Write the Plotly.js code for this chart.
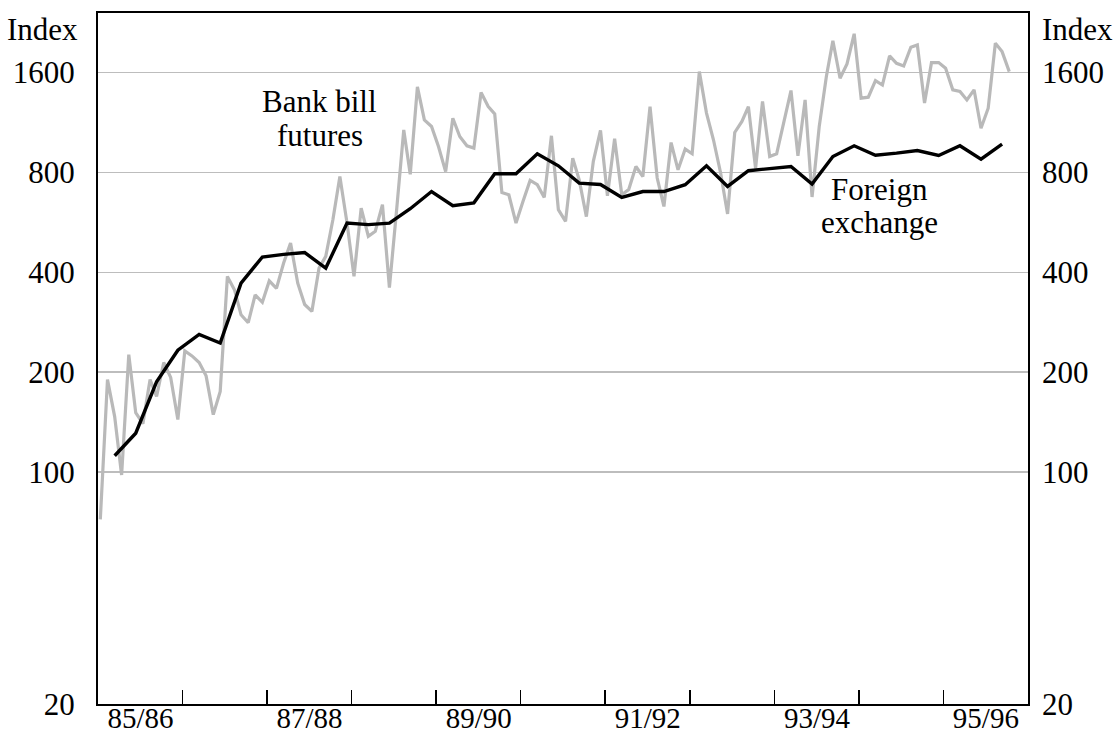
<!DOCTYPE html>
<html>
<head>
<meta charset="utf-8">
<script src="https://cdn.plot.ly/plotly-3.0.1.min.js"></script>
<style>html,body{margin:0;padding:0;background:#fff;}#chart{width:1119px;height:738px;}</style>
</head>
<body>
<div id="chart"></div>
<script>
// Monthly bank bill futures index, starting July 1985
const billStart = [1985, 7];
const billFutures = [72,190,147,98,226,151,140,190,169,214,193,144,
  232,224,214,195,149,175,389,354,298,282,342,325,
  377,358,427,490,371,320,305,412,447,577,778,563,
  389,625,514,532,640,360,615,1075,790,1450,1152,1101,
  958,805,1166,1027,963,948,1393,1264,1202,696,685,563,
  654,757,735,673,1032,618,570,884,760,589,864,1071,
  680,1011,685,711,834,778,1264,770,632,985,815,941,
  911,1611,1208,1004,797,600,1056,1140,1264,824,1309,894,
  911,1126,1413,898,1324,675,1100,1560,1996,1539,1700,2095,
  1340,1349,1513,1468,1797,1707,1675,1908,1939,1295,1715,1715,
  1650,1420,1403,1324,1420,1088,1250,1962,1851,1611];
// Quarterly foreign exchange index, starting September 1985
const fxStart = [1985, 9];
const foreignExchange = [112,131,187,233,260,245,371,445,453,459,412,563,
  557,563,622,701,635,648,793,793,911,838,743,736,
  673,701,701,735,838,726,810,822,834,738,894,963,
  902,915,932,900,963,878,974];
const yTicks = [20,100,200,400,800,1600];
const yearTicks = ['1986-07-01','1987-07-01','1988-07-01','1989-07-01','1990-07-01',
  '1991-07-01','1992-07-01','1993-07-01','1994-07-01','1995-07-01'];
const yearLabelPos = ['1986-01-01','1988-01-01','1990-01-01','1992-01-01','1994-01-01','1996-01-01'];
const yearLabels = ['85/86','87/88','89/90','91/92','93/94','95/96'];

function dates(start, n, stepMonths) {
  const out = [];
  for (let k = 0; k < n; k++) {
    const m0 = start[1] - 1 + k * stepMonths;
    const y = start[0] + Math.floor(m0 / 12);
    const m = (m0 % 12) + 1;
    out.push(y + '-' + String(m).padStart(2, '0') + '-11');
  }
  return out;
}

const font = {family: '"Liberation Serif", "Times New Roman", serif', size: 31, color: '#000'};
const xFont = {family: '"Liberation Serif", "Times New Roman", serif', size: 29, color: '#000'};
const xRange = ['1985-07-01', '1996-07-01'];
const yRange = [Math.log10(20), Math.log10(2420)];

const traces = [
  {x: dates(billStart, billFutures.length, 1), y: billFutures, type: 'scatter', mode: 'lines',
   line: {color: '#b9b9b9', width: 3.2}, hoverinfo: 'skip', showlegend: false},
  {x: dates(fxStart, foreignExchange.length, 3), y: foreignExchange, type: 'scatter', mode: 'lines',
   line: {color: '#000', width: 3.4}, hoverinfo: 'skip', showlegend: false},
  {x: [xRange[0]], y: [null], xaxis: 'x2', yaxis: 'y', type: 'scatter', mode: 'lines', showlegend: false, hoverinfo: 'skip'},
  {x: [xRange[0]], y: [null], xaxis: 'x', yaxis: 'y2', type: 'scatter', mode: 'lines', showlegend: false, hoverinfo: 'skip'}
];

function ann(text, x, py, xref) {
  return {xref: xref || 'paper', yref: 'paper', x: x, y: (704 - py) / 691, xanchor: 'center', yanchor: 'middle',
          text: text, showarrow: false, font: font};
}

const layout = {
  width: 1119, height: 738,
  margin: {l: 98, r: 91, t: 13, b: 34},
  paper_bgcolor: '#fff', plot_bgcolor: '#fff',
  font: font,
  showlegend: false,
  xaxis: {type: 'date', range: xRange, tickmode: 'array', tickvals: yearTicks, showticklabels: false,
    ticks: 'inside', ticklen: 14, tickwidth: 1.5, tickcolor: '#000',
    showline: true, linecolor: '#000', linewidth: 2, mirror: true, showgrid: false, zeroline: false},
  xaxis2: {type: 'date', range: xRange, overlaying: 'x', anchor: 'y', side: 'bottom',
    tickmode: 'array', tickvals: yearLabelPos, ticktext: yearLabels, ticks: '',
    showline: false, showgrid: false, zeroline: false, tickfont: xFont, ticklabelstandoff: -6},
  yaxis: {type: 'log', range: yRange, tickmode: 'array', tickvals: yTicks, ticktext: yTicks.map(String),
    ticks: '', showline: true, linecolor: '#000', linewidth: 2, mirror: true,
    showgrid: true, gridcolor: '#bdbdbd', gridwidth: 1.5, zeroline: false, tickfont: font, ticklabelstandoff: 15},
  yaxis2: {type: 'log', range: yRange, overlaying: 'y', side: 'right', anchor: 'x', tickmode: 'array',
    tickvals: yTicks, ticktext: yTicks.map(String), ticks: '', showline: false, showgrid: false,
    zeroline: false, tickfont: font, ticklabelstandoff: 13},
  annotations: [
    {xref: 'paper', yref: 'paper', x: -0.019, y: (704 - 29) / 691, xanchor: 'right', yanchor: 'middle',
     text: 'Index', showarrow: false, font: font},
    {xref: 'paper', yref: 'paper', x: 1.013, y: (704 - 29) / 691, xanchor: 'left', yanchor: 'middle',
     text: 'Index', showarrow: false, font: font},
    ann('Bank bill', '1988-02-15', 102, 'x'),
    ann('futures', '1988-02-15', 135, 'x'),
    ann('Foreign', '1994-09-28', 190, 'x'),
    ann('exchange', '1994-09-28', 222, 'x')
  ]
};

Plotly.newPlot('chart', traces, layout, {staticPlot: true, displayModeBar: false});
</script>
</body>
</html>
